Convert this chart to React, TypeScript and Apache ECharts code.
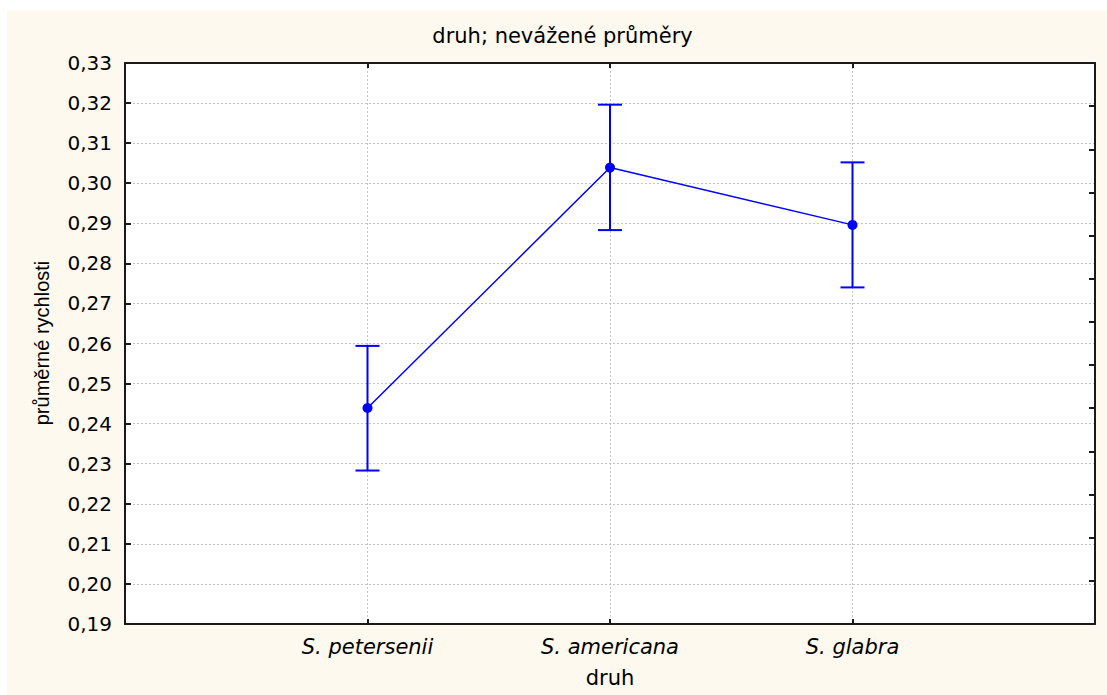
import React, { useEffect, useRef } from "react";
import * as echarts from "echarts";

const titleText = "druh; nevážené průměry";
const xAxisName = "druh";
const yAxisName = "průměrné rychlosti";
const categories = ["S. petersenii", "S. americana", "S. glabra"];
const means = [0.2439, 0.3039, 0.2896];
const upper = [0.2594, 0.3196, 0.3052];
const lower = [0.2283, 0.2883, 0.274];
const yMin = 0.19;
const yMax = 0.33;
const yStep = 0.01;

const BLUE = "#0000FF";
const HFONT = "DejaVu Sans";
const VFONT = "Liberation Sans";

export default function App() {
  const ref = useRef<HTMLDivElement>(null);
  useEffect(() => {
    if (!ref.current) return;
    const chart = echarts.init(ref.current, undefined, { renderer: "svg" });
    const xPos = categories.map((_, i) => i + 1);
    const option: any = {
      animation: false,
      backgroundColor: "#FEF9EE",
      graphic: [
        {
          type: "text",
          x: 555.5,
          y: 26,
          style: {
            text: titleText,
            fontFamily: HFONT,
            fontSize: 21,
            fill: "#000",
            align: "center",
            verticalAlign: "middle",
          },
        },
        {
          type: "text",
          x: 603,
          y: 668,
          style: {
            text: xAxisName,
            fontFamily: HFONT,
            fontSize: 21,
            fill: "#000",
            align: "center",
            verticalAlign: "middle",
          },
        },
        {
          type: "text",
          x: 35,
          y: 333,
          rotation: Math.PI / 2,
          style: {
            text: yAxisName,
            fontFamily: VFONT,
            fontSize: 20,
            fill: "#000",
            align: "center",
            verticalAlign: "middle",
          },
        },
      ],
      grid: { left: 118, top: 53, right: 12, bottom: 71, backgroundColor: "#fff", show: true, borderWidth: 0 },
      xAxis: [
        {
          type: "value",
          min: 0,
          max: categories.length + 1,
          interval: 1,
          position: "bottom",
          axisLine: { show: true, lineStyle: { color: "#1a1a1a", width: 2 } },
          axisTick: { show: true, inside: true, length: 5, lineStyle: { color: "#1a1a1a", width: 2 } },
          axisLabel: {
            margin: 12,
            fontFamily: HFONT,
            fontSize: 21,
            fontStyle: "italic",
            color: "#000",
            formatter: (v: number) => {
              const i = Math.round(v) - 1;
              return i >= 0 && i < categories.length ? categories[i] : "";
            },
          },
          splitLine: {
            show: true,
            showMinLine: false,
            showMaxLine: false,
            lineStyle: { color: "#c4c4c4", width: 1, type: [2, 2] },
          },
        },
        {
          type: "value",
          min: 0,
          max: categories.length + 1,
          interval: 1,
          position: "top",
          axisLine: { show: true, onZero: false, lineStyle: { color: "#1a1a1a", width: 2 } },
          axisTick: { show: true, inside: true, length: 5, lineStyle: { color: "#1a1a1a", width: 2 } },
          axisLabel: { show: false },
          splitLine: { show: false },
        },
      ],
      yAxis: [
        {
          type: "value",
          min: yMin,
          max: yMax,
          interval: yStep,
          position: "left",
          axisLine: { show: true, lineStyle: { color: "#1a1a1a", width: 2 } },
          axisTick: { show: true, inside: true, length: 6, lineStyle: { color: "#1a1a1a", width: 2 } },
          axisLabel: {
            margin: 13,
            fontFamily: HFONT,
            fontSize: 20,
            color: "#000",
            formatter: (v: number) => v.toFixed(2).replace(".", ","),
          },
          splitLine: {
            show: true,
            showMinLine: false,
            showMaxLine: false,
            lineStyle: { color: "#c4c4c4", width: 1, type: [2, 2] },
          },
        },
        {
          type: "value",
          min: 0,
          max: 13,
          interval: 1,
          position: "right",
          axisLine: { show: true, onZero: false, lineStyle: { color: "#1a1a1a", width: 2 } },
          axisTick: { show: true, inside: true, length: 6, lineStyle: { color: "#1a1a1a", width: 2 } },
          axisLabel: { show: false },
          splitLine: { show: false },
        },
      ],
      series: [
        {
          type: "custom",
          xAxisIndex: 0,
          yAxisIndex: 0,
          data: xPos.map((x, i) => [x, lower[i], upper[i]]),
          encode: { x: 0, y: [1, 2] },
          renderItem: (params: any, api: any) => {
            const x = api.value(0);
            const lo = api.coord([x, api.value(1)]);
            const hi = api.coord([x, api.value(2)]);
            const half = 12;
            const style = { stroke: BLUE, lineWidth: 2 };
            return {
              type: "group",
              children: [
                { type: "line", shape: { x1: lo[0], y1: lo[1], x2: hi[0], y2: hi[1] }, style },
                { type: "line", shape: { x1: lo[0] - half, y1: lo[1], x2: lo[0] + half, y2: lo[1] }, style },
                { type: "line", shape: { x1: hi[0] - half, y1: hi[1], x2: hi[0] + half, y2: hi[1] }, style },
              ],
            };
          },
        },
        {
          type: "line",
          xAxisIndex: 0,
          yAxisIndex: 0,
          data: xPos.map((x, i) => [x, means[i]]),
          symbol: "circle",
          symbolSize: 10,
          itemStyle: { color: BLUE },
          lineStyle: { color: BLUE, width: 1.5 },
          z: 3,
        },
      ],
    };
    chart.setOption(option);
    return () => chart.dispose();
  }, []);
  return (
    <div
      ref={ref}
      style={{ position: "absolute", left: 7, top: 10, width: 1100, height: 685 }}
    />
  );
}
